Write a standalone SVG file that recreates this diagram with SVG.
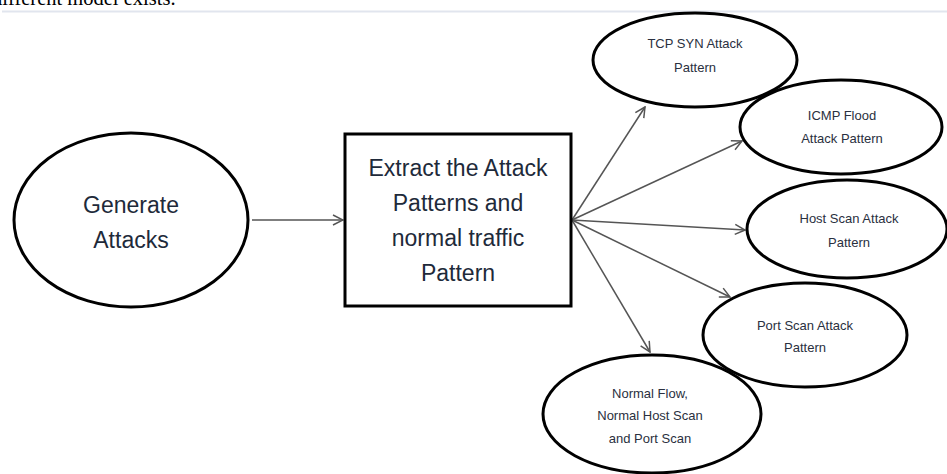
<svg xmlns="http://www.w3.org/2000/svg" width="947" height="474" viewBox="0 0 947 474">
  <style>
    .node { fill: #ffffff; stroke: #000000; stroke-width: 3; }
    .big { font-family: "Liberation Sans", Arial, sans-serif; font-size: 23px; fill: #1e2a3a; text-anchor: middle; }
    .small { font-family: "Liberation Sans", Arial, sans-serif; font-size: 13px; fill: #2a3040; text-anchor: middle; }
    .edge { stroke: #555555; stroke-width: 1.5; fill: none; marker-end: url(#open); }
  </style>
  <defs>
    <marker id="open" viewBox="0 0 12 12" refX="11" refY="6" markerWidth="12" markerHeight="12" markerUnits="userSpaceOnUse" orient="auto">
      <path d="M1,1 L11,6 L1,11" fill="none" stroke="#555555" stroke-width="1.5"/>
    </marker>
  </defs>
  <rect width="947" height="474" fill="#ffffff"/>

  <!-- running text above the figure -->
  <text x="-8" y="5" font-family="'Liberation Serif', 'Times New Roman', serif" font-size="20.5" fill="#000">different model exists.</text>
  <line x1="2" y1="11.5" x2="947" y2="11.5" stroke="#e1e5ee" stroke-width="2"/>

  <!-- connectors -->
  <g id="connectors">
    <line class="edge" x1="252" y1="220" x2="343" y2="220" stroke-width="2.5"/>
    <line class="edge" x1="572" y1="220" x2="645" y2="107"/>
    <line class="edge" x1="572" y1="220" x2="742" y2="141"/>
    <line class="edge" x1="572" y1="220" x2="745" y2="230"/>
    <line class="edge" x1="572" y1="220" x2="730" y2="297"/>
    <line class="edge" x1="572" y1="220" x2="650" y2="352"/>
  </g>

  <g id="generate">
    <ellipse class="node" cx="131" cy="220" rx="117" ry="87"/>
    <text class="big" x="131" y="213">Generate</text>
    <text class="big" x="131" y="248">Attacks</text>
  </g>

  <g id="extract">
    <rect class="node" x="345" y="134" width="226" height="172"/>
    <text class="big" x="458" y="176">Extract the Attack</text>
    <text class="big" x="458" y="211">Patterns and</text>
    <text class="big" x="458" y="246">normal traffic</text>
    <text class="big" x="458" y="281">Pattern</text>
  </g>

  <g id="tcp-syn">
    <ellipse class="node" cx="695" cy="60" rx="102" ry="47"/>
    <text class="small" x="695" y="48">TCP SYN Attack</text>
    <text class="small" x="695" y="72">Pattern</text>
  </g>

  <g id="icmp-flood">
    <ellipse class="node" cx="841" cy="127" rx="101" ry="47"/>
    <text class="small" x="842" y="120">ICMP Flood</text>
    <text class="small" x="842" y="143">Attack Pattern</text>
  </g>

  <g id="host-scan">
    <ellipse class="node" cx="847" cy="229" rx="100" ry="49"/>
    <text class="small" x="849" y="223">Host Scan Attack</text>
    <text class="small" x="849" y="247">Pattern</text>
  </g>

  <g id="port-scan">
    <ellipse class="node" cx="805" cy="335" rx="102" ry="52"/>
    <text class="small" x="805" y="330">Port Scan Attack</text>
    <text class="small" x="805" y="352">Pattern</text>
  </g>

  <g id="normal-flow">
    <ellipse class="node" cx="652" cy="414" rx="109" ry="59"/>
    <text class="small" x="650" y="398">Normal  Flow,</text>
    <text class="small" x="650" y="420">Normal Host Scan</text>
    <text class="small" x="650" y="443">and Port Scan</text>
  </g>
</svg>
